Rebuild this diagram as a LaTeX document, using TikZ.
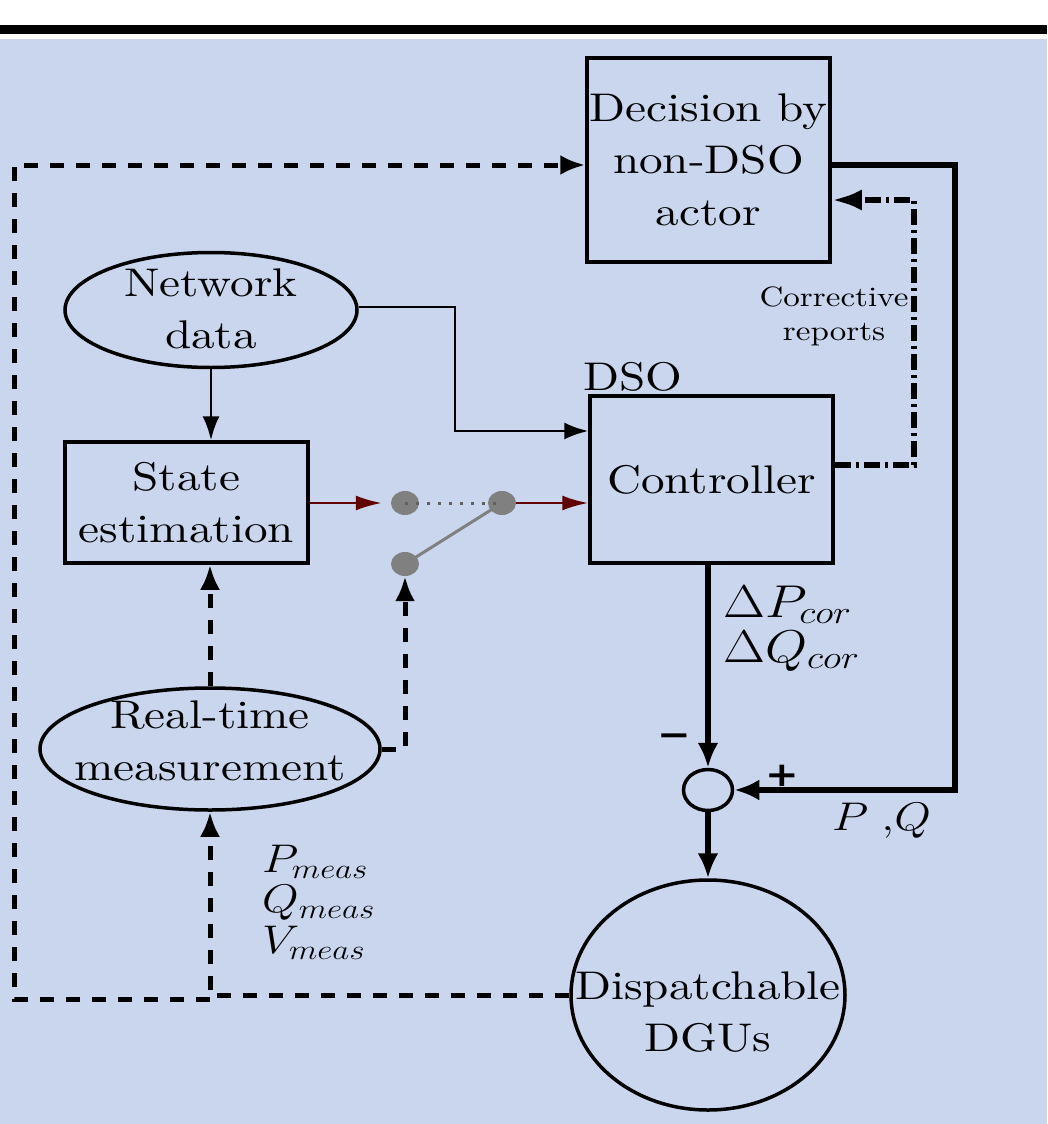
\documentclass[tikz,border=0pt]{standalone}
\usepackage{fix-cm}
\usepackage[no-math]{fontspec}
\setmainfont{lmroman10-regular.otf}[FakeStretch=1.18]
\newfontfamily\signfont{DejaVu Sans}[FakeStretch=1.18]
\usepackage{graphicx}
\usetikzlibrary{arrows.meta,shapes.geometric}

\definecolor{bgblue}{RGB}{202,214,238}
\definecolor{darkred}{RGB}{96,0,0}
\definecolor{swgray}{RGB}{128,128,128}

\newcommand\blockfont{\fontsize{40}{52}\selectfont}
\newcommand\notefont{\fontsize{28}{34}\selectfont}
\newcommand\mathbig{\fontsize{46}{46}\selectfont}
\newcommand\mathmid{\fontsize{40}{40}\selectfont}
\newcommand\wide[1]{\scalebox{1.18}[1]{#1}}

\tikzset{
  blockbox/.style={draw, line width=3.5pt, inner sep=0pt, align=center, font=\blockfont},
  oval/.style={draw, ellipse, line width=3.5pt, inner sep=0pt},
  nodetext/.style={align=center, inner sep=0pt, font=\blockfont},
  swdot/.style={ellipse, fill=swgray, inner sep=0pt, minimum width=28pt, minimum height=24pt},
  thinline/.style={line width=2.5pt, -{Latex[length=24pt,width=17pt]}},
  redline/.style={line width=2.5pt, draw=darkred, -{Latex[length=26pt,width=15pt]}},
  dashedline/.style={line width=5pt, dash pattern=on 14pt off 12pt, -{Latex[length=25pt,width=20pt]}},
  heavyline/.style={line width=6pt, -{Latex[length=25pt,width=21pt]}},
  dashdotline/.style={line width=6.5pt, dash pattern=on 16pt off 5pt on 3pt off 5pt, -{Latex[length=30pt,width=21pt]}},
  mathlabel/.style={anchor=base west, inner sep=0pt},
  signlabel/.style={inner sep=0pt, font=\signfont\bfseries\fontsize{34}{34}\selectfont}
}

\begin{document}
\begin{tikzpicture}[x=1pt, y=-1pt]
\useasboundingbox (0,0) rectangle (1047,1124);
% page background and top rule
\fill[white] (0,0) rectangle (1047,1124);
\fill[black] (0,25) rectangle (1047,34);
\fill[bgblue] (0,39) rectangle (1047,1124);

% blocks
\node[blockbox, minimum width=243pt, minimum height=204pt] (dec) at (708.5,160) {Decision by\\non-DSO\\actor};
\node[blockbox, minimum width=243pt, minimum height=167pt] (ctrl) at (711.5,479.5) {Controller};
\node[blockbox, minimum width=243pt, minimum height=121pt] (state) at (186.5,502.5) {State\\estimation};

\node[oval, minimum width=292pt, minimum height=115pt] (net) at (211,310) {};
\node[nodetext] (nettxt) at (211,309) {Network\\data};
\node[oval, minimum width=340pt, minimum height=122pt] (meas) at (210,749) {};
\node[nodetext] (meastxt) at (210,741) {Real-time\\measurement};
\node[oval, minimum width=274pt, minimum height=230pt] (dgu) at (708,995) {};
\node[nodetext] (dgutxt) at (708,1012) {Dispatchable\\DGUs};
\node[oval, minimum width=49pt, minimum height=41pt] (sum) at (708,790) {};

% switch
\coordinate (s1c) at (405,503);
\coordinate (s2c) at (502,503);
\coordinate (s3c) at (405,564);
\draw[swgray, line width=3pt] (s3c) -- (s2c);
\node[swdot] (s1) at (s1c) {};
\node[swdot] (s2) at (s2c) {};
\node[swdot] (s3) at (s3c) {};
\draw[swgray!75!black, line width=3pt, dash pattern=on 3pt off 8pt] (s1.center) -- (s2.center);

% network data connections
\draw[thinline] (net.south) -- (net.south |- state.north);
\draw[thinline] ([yshift=3pt]net.east) -- ++(96,0) |- ([yshift=48.5pt]ctrl.west);

% estimation path through the switch
\draw[redline] (state.east |- s1) -- ([xshift=-9pt]s1.west);
\draw[redline] (s2.east) -- (s2 -| ctrl.west);

% measurement paths
\draw[dashedline] (meas.north) -- (meas.north |- state.south);
\draw[dashedline] (meas.east) -| (s3.south);
\draw[dashedline] (dgu.west) -| (meas.south);
\coordinate (lj) at (210,999);
\coordinate (lc) at (14,999);
\draw[dashedline] (lj) -- (lc) |- ([yshift=-5pt]dec.west);

% control loop
\draw[heavyline] (sum.north |- ctrl.south) -- (sum.north);
\draw[heavyline] (sum.south) -- (dgu.north);
\draw[heavyline] ([yshift=-5pt]dec.east) -- ++(123,0) |- (sum.east);
\draw[dashdotline] ([yshift=14.5pt]ctrl.east) -| ([xshift=82pt,yshift=-40pt]dec.east) -- ([yshift=-40pt]dec.east);

% labels
\node[anchor=base west, inner sep=0pt, font=\blockfont] (dso) at (583,390) {DSO};
\node[align=center, inner sep=0pt, font=\notefont] (corr) at (834,316) {Corrective\\reports};
\node[mathlabel, font=\mathbig] (dp) at (723,617) {\wide{$\Delta P_{cor}$}};
\node[mathlabel, font=\mathbig] (dq) at (723,662) {\wide{$\Delta Q_{cor}$}};
\node[mathlabel, font=\mathmid] (pq) at (832,830) {\wide{$P\;{,}Q$}};
\node[mathlabel, font=\mathmid] (pm) at (262,872) {\wide{$P_{meas}$}};
\node[mathlabel, font=\mathmid] (qm) at (262,912) {\wide{$Q_{meas}$}};
\node[mathlabel, font=\mathmid] (vm) at (262,953) {\wide{$V_{meas}$}};
\node[signlabel] (minus) at (674.5,740) {−};
\node[signlabel] (plus) at (782.5,776) {+};
\end{tikzpicture}
\end{document}
